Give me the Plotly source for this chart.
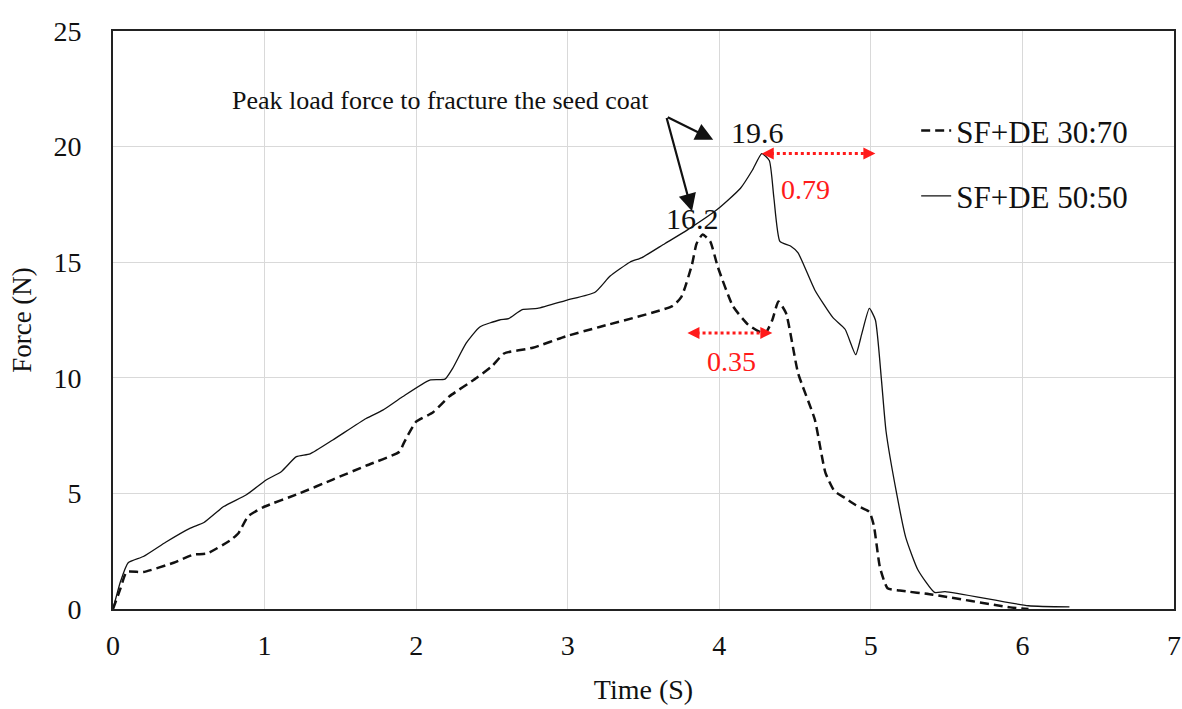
import plotly.graph_objects as go

# ---- data ----
time_5050 = [0, 0.05, 0.10, 0.20, 0.35, 0.51, 0.60, 0.73, 0.88, 1.01, 1.11, 1.21, 1.30, 1.45,
             1.67, 1.78, 1.91, 2.09, 2.19, 2.24, 2.33, 2.42, 2.55, 2.61, 2.70, 2.80, 2.99, 3.18,
             3.28, 3.41, 3.49, 3.64, 3.79, 3.99, 4.14, 4.22, 4.28, 4.33, 4.36, 4.40, 4.47, 4.52,
             4.63, 4.75, 4.83, 4.90, 4.94, 4.99, 5.03, 5.07, 5.10, 5.17, 5.23, 5.31, 5.42, 5.49,
             6.04, 6.31]
force_5050 = [0, 1.2, 2.0, 2.27, 2.9, 3.5, 3.74, 4.43, 4.94, 5.58, 5.94, 6.59, 6.71, 7.31,
              8.24, 8.6, 9.18, 9.9, 9.94, 10.4, 11.5, 12.2, 12.5, 12.56, 12.95, 13.0, 13.35, 13.7,
              14.4, 15.0, 15.2, 15.8, 16.4, 17.3, 18.2, 19.0, 19.7, 19.4, 17.8, 15.9, 15.7, 15.4,
              13.8, 12.6, 12.1, 11.0, 11.9, 13.0, 12.5, 9.9, 7.7, 5.0, 3.1, 1.7, 0.72, 0.75,
              0.14, 0.09]

time_3070 = [0, 0.05, 0.09, 0.20, 0.40, 0.53, 0.62, 0.78, 0.83, 0.89, 0.99, 1.23, 1.45, 1.67,
             1.89, 1.92, 2.00, 2.11, 2.22, 2.40, 2.50, 2.58, 2.77, 2.99, 3.21, 3.69, 3.75, 3.82,
             3.85, 3.89, 3.94, 3.99, 4.09, 4.19, 4.30, 4.35, 4.39, 4.44, 4.52, 4.63, 4.70, 4.76,
             4.83, 4.90, 4.99, 5.02, 5.06, 5.11, 5.19, 5.41, 5.92, 6.04]
force_3070 = [0, 0.9, 1.6, 1.6, 2.0, 2.35, 2.4, 3.0, 3.3, 4.0, 4.4, 5.0, 5.6, 6.2,
              6.8, 7.2, 8.1, 8.5, 9.2, 10.0, 10.5, 11.05, 11.3, 11.8, 12.2, 13.1, 13.5, 14.9,
              15.8, 16.2, 15.9, 14.8, 13.1, 12.3, 11.9, 12.5, 13.3, 12.8, 10.2, 8.2, 5.9, 5.1,
              4.8, 4.5, 4.2, 3.6, 1.8, 0.9, 0.8, 0.62, 0.07, 0.0]

series_names = ["SF+DE 30:70", "SF+DE 50:50"]
x_ticks = [0, 1, 2, 3, 4, 5, 6, 7]
y_ticks = [0, 5, 10, 15, 20, 25]

peak_labels = ["19.6", "16.2"]
peak_label_pos = [(4.25, 20.6), (3.82, 16.9)]
arrow_tail = (3.65, 21.3)
arrow_tips = [(3.96, 20.3), (3.82, 17.2)]
note_text = "Peak load force to fracture the seed coat"
note_pos = (0.77, 22.0)

span_labels = ["0.79", "0.35"]
span_ranges = [(4.28, 5.03, 19.7), (3.79, 4.35, 11.94)]
span_label_pos = [(4.57, 18.15), (4.08, 10.7)]

FONT = "Liberation Serif, Times New Roman, serif"
RED = "#ff1a1a"

fig = go.Figure()
fig.add_trace(go.Scatter(x=time_3070, y=force_3070, mode="lines", name=series_names[0],
                         legendgroup="a",
                         line=dict(color="#111111", width=2.5, dash="9px,5px", shape="spline",
                                   smoothing=0.5)))
fig.add_trace(go.Scatter(x=time_5050, y=force_5050, mode="lines", name=series_names[1],
                         legendgroup="b",
                         line=dict(color="#111111", width=1.3, shape="spline", smoothing=0.5)))

# annotations
fig.add_annotation(x=note_pos[0], y=note_pos[1], text=note_text, showarrow=False,
                   xanchor="left", yanchor="middle", font=dict(family=FONT, size=26, color="#111"))
for (tx, ty) in arrow_tips:
    fig.add_annotation(x=tx, y=ty, ax=arrow_tail[0], ay=arrow_tail[1], axref="x", ayref="y",
                       xref="x", yref="y", text="", showarrow=True, arrowhead=2,
                       arrowsize=1.6, arrowwidth=2.2, arrowcolor="#111")
for lab, (lx, ly) in zip(peak_labels, peak_label_pos):
    fig.add_annotation(x=lx, y=ly, text=lab, showarrow=False,
                       font=dict(family=FONT, size=30, color="#111"))

for lab, (x0, x1, yy), (lx, ly) in zip(span_labels, span_ranges, span_label_pos):
    fig.add_shape(type="line", x0=x0 + 0.06, x1=x1 - 0.06, y0=yy, y1=yy, xref="x", yref="y",
                  line=dict(color=RED, width=3, dash="dot"))
    fig.add_annotation(x=x0, y=yy, ax=x0 + 0.07, ay=yy, axref="x", ayref="y", text="",
                       showarrow=True, arrowhead=2, arrowsize=1.2, arrowwidth=2, arrowcolor=RED)
    fig.add_annotation(x=x1, y=yy, ax=x1 - 0.07, ay=yy, axref="x", ayref="y", text="",
                       showarrow=True, arrowhead=2, arrowsize=1.2, arrowwidth=2, arrowcolor=RED)
    fig.add_annotation(x=lx, y=ly, text=lab, showarrow=False,
                       font=dict(family=FONT, size=28, color=RED))

axis_common = dict(showgrid=True, gridcolor="#d9d9d9", gridwidth=1, showline=True,
                   linecolor="#222", linewidth=2, mirror=True, zeroline=False,
                   tickfont=dict(family=FONT, size=28, color="#111"), ticks="")

fig.update_xaxes(range=[0, 7], tickvals=x_ticks, ticklabelstandoff=10,
                 title=dict(text="Time (S)", font=dict(family=FONT, size=28, color="#111"),
                            standoff=20), **axis_common)
fig.update_yaxes(range=[0, 25], tickvals=y_ticks, ticklabelstandoff=24,
                 title=dict(text="Force (N)", font=dict(family=FONT, size=27, color="#111"),
                            standoff=14), **axis_common)

fig.update_layout(
    width=1182, height=709,
    margin=dict(l=113, r=8, t=31, b=100, autoexpand=False),
    paper_bgcolor="white", plot_bgcolor="white",
    showlegend=True,
    legend=dict(x=0.757, y=0.874, xanchor="left", yanchor="top", traceorder="grouped",
                tracegroupgap=22, bgcolor="rgba(0,0,0,0)",
                font=dict(family=FONT, size=31, color="#111")),
)

# remove the default page margin so the figure fills the window exactly
fig.write_html("out.html", config={"displayModeBar": False},
               post_script="document.body.style.margin='0';document.body.style.overflow='hidden';")
